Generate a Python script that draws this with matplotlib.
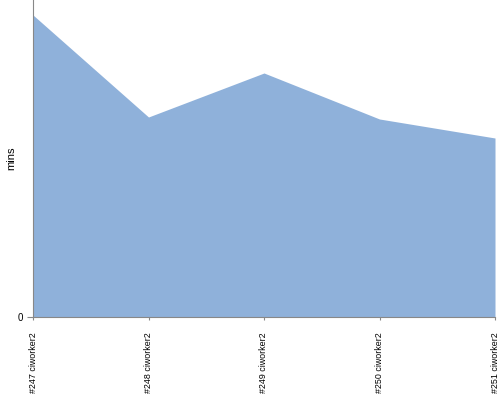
import matplotlib
matplotlib.use("Agg")
import matplotlib.pyplot as plt

plt.rcParams['font.family'] = ['Liberation Sans', 'DejaVu Sans']

builds = ["#247 ciworker2", "#248 ciworker2", "#249 ciworker2", "#250 ciworker2", "#251 ciworker2"]
minutes = [30.2, 20.0, 24.4, 19.8, 17.9]

fig = plt.figure(figsize=(5, 4), dpi=100)
ax = fig.add_axes([0.066, 0.2075, 0.924, 0.7925])

x = list(range(len(builds)))
ax.fill_between(x, minutes, 0, color='#8fb1da', linewidth=0)
ax.set_xlim(0, len(builds) - 1)
ax.set_ylim(0, 31.7)

ax.set_xticks(x)
ax.set_xticklabels(builds, rotation=90, fontsize=6.4)
ax.set_yticks([0])
ax.set_yticklabels(['0'], fontsize=7)
fig.text(0.022, 0.605, 'mins', rotation=90, ha='center', va='center', fontsize=8)

for s in ['top', 'right']:
    ax.spines[s].set_visible(False)
for s in ['left', 'bottom']:
    ax.spines[s].set_color('#888888')
    ax.spines[s].set_linewidth(0.8)
ax.tick_params(axis='both', colors='#888888', length=4, width=0.8, labelcolor='black')
ax.tick_params(axis='x', length=2, pad=9)

fig.savefig('out.png', dpi=100)
